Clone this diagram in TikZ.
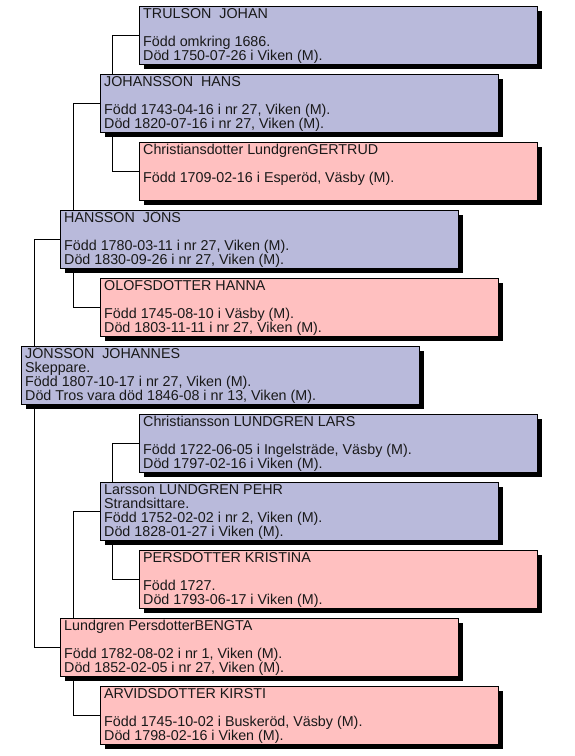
\documentclass[tikz,border=0pt]{standalone}
\usepackage{fontspec}
\setmainfont{Liberation Sans}
\usetikzlibrary{calc,shadows}
\definecolor{manblue}{RGB}{185,186,219}
\definecolor{womanpink}{RGB}{255,192,192}
\newcommand{\fourlines}[4]{\vtop{\baselineskip=14pt\lineskiplimit=-100pt\hbox{#1}\hbox{#2}\hbox{#3}\hbox{#4}}}
\tikzset{
  personbox/.style={draw=black, line width=1pt, anchor=north west, rectangle,
    minimum width=398pt, minimum height=58pt, inner sep=0pt,
    drop shadow={shadow xshift=4pt, shadow yshift=-4pt, fill=black, opacity=1}},
  manbox/.style={personbox, fill=manblue},
  womanbox/.style={personbox, fill=womanpink},
  persontext/.style={anchor=base west, inner sep=0pt, font=\fontsize{14.3}{14}\selectfont, text=black!90},
  link/.style={draw=black, line width=1pt}
}
\begin{document}
\begin{tikzpicture}[x=1pt,y=-1pt]
\useasboundingbox (0,0) rectangle (575,756);
% boxes
\node[manbox] (b1) at (139,6) {};
\node[manbox] (b2) at (100,74) {};
\node[womanbox] (b3) at (139,142) {};
\node[manbox] (b4) at (60,210) {};
\node[womanbox] (b5) at (100,278) {};
\node[manbox] (b6) at (21,346) {};
\node[manbox] (b7) at (139,414) {};
\node[manbox] (b8) at (100,482) {};
\node[womanbox] (b9) at (139,550) {};
\node[womanbox] (b10) at (60,618) {};
\node[womanbox] (b11) at (100,686) {};
% texts
\node[persontext] (t1) at ($(b1.north west)+(4,12.3)$) {\fourlines{TRULSON\ \ JOHAN}{}{Född omkring 1686.}{Död 1750-07-26 i Viken (M).}};
\node[persontext] (t2) at ($(b2.north west)+(4,12.3)$) {\fourlines{JOHANSSON\ \ HANS}{}{Född 1743-04-16 i nr 27, Viken (M).}{Död 1820-07-16 i nr 27, Viken (M).}};
\node[persontext] (t3) at ($(b3.north west)+(4,12.3)$) {\fourlines{Christiansdotter LundgrenGERTRUD}{}{Född 1709-02-16 i Esperöd, Väsby (M).}{}};
\node[persontext] (t4) at ($(b4.north west)+(4,12.3)$) {\fourlines{HANSSON\ \ JÖNS}{}{Född 1780-03-11 i nr 27, Viken (M).}{Död 1830-09-26 i nr 27, Viken (M).}};
\node[persontext] (t5) at ($(b5.north west)+(4,12.3)$) {\fourlines{OLOFSDOTTER HANNA}{}{Född 1745-08-10 i Väsby (M).}{Död 1803-11-11 i nr 27, Viken (M).}};
\node[persontext] (t6) at ($(b6.north west)+(4,12.3)$) {\fourlines{JÖNSSON\ \ JOHANNES}{Skeppare.}{Född 1807-10-17 i nr 27, Viken (M).}{Död Tros vara död 1846-08 i nr 13, Viken (M).}};
\node[persontext] (t7) at ($(b7.north west)+(4,12.3)$) {\fourlines{Christiansson LUNDGREN LARS}{}{Född 1722-06-05 i Ingelsträde, Väsby (M).}{Död 1797-02-16 i Viken (M).}};
\node[persontext] (t8) at ($(b8.north west)+(4,12.3)$) {\fourlines{Larsson LUNDGREN PEHR}{Strandsittare.}{Född 1752-02-02 i nr 2, Viken (M).}{Död 1828-01-27 i Viken (M).}};
\node[persontext] (t9) at ($(b9.north west)+(4,12.3)$) {\fourlines{PERSDOTTER KRISTINA}{}{Född 1727.}{Död 1793-06-17 i Viken (M).}};
\node[persontext] (t10) at ($(b10.north west)+(4,12.3)$) {\fourlines{Lundgren PersdotterBENGTA}{}{Född 1782-08-02 i nr 1, Viken (M).}{Död 1852-02-05 i nr 27, Viken (M).}};
\node[persontext] (t11) at ($(b11.north west)+(4,12.3)$) {\fourlines{ARVIDSDOTTER KIRSTI}{}{Född 1745-10-02 i Buskeröd, Väsby (M).}{Död 1798-02-16 i Viken (M).}};
% connectors: father
\draw[link] (b1.west) -| ($(b2.north west)+(12,0)$);
\draw[link] (b4.west) -| ($(b6.north west)+(13,0)$);
\draw[link] (b2.west) -| ($(b4.north west)+(13,0)$);
\draw[link] (b7.west) -| ($(b8.north west)+(12,0)$);
\draw[link] (b8.west) -| ($(b10.north west)+(13,0)$);
% connectors: mother
\draw[link] ($(b2.south west)+(12,0)$) |- (b3.west);
\draw[link] ($(b4.south west)+(13,0)$) |- (b5.west);
\draw[link] ($(b6.south west)+(13,0)$) |- (b10.west);
\draw[link] ($(b8.south west)+(12,0)$) |- (b9.west);
\draw[link] ($(b10.south west)+(13,0)$) |- (b11.west);
\end{tikzpicture}
\end{document}
